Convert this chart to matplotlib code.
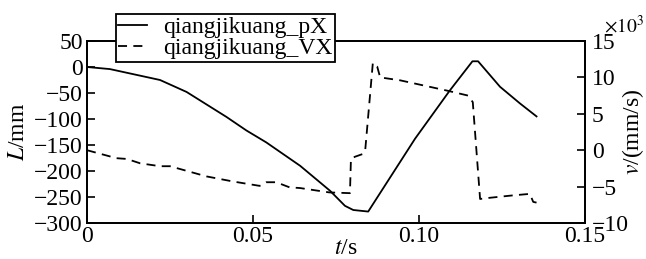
import matplotlib
matplotlib.use("Agg")
import matplotlib.pyplot as plt

# Position (left axis, mm)
t_px = [0.0, 0.0069, 0.022, 0.030, 0.042, 0.048, 0.054, 0.0642, 0.0732, 0.0777, 0.0802,
        0.0847, 0.0988, 0.1093, 0.1161, 0.1178, 0.1244, 0.1304, 0.1354]
px = [0, -4, -25, -48, -96, -122, -145, -190, -238, -267, -275,
      -278, -138, -45, 11, 11, -38, -70, -95]

# Velocity (right axis, x10^3 mm/s)
t_vx = [0.0, 0.0089, 0.012, 0.016, 0.022, 0.025, 0.036, 0.044, 0.052, 0.054, 0.057,
        0.061, 0.0642, 0.073, 0.0792, 0.0795, 0.0807, 0.0832, 0.0838, 0.0861, 0.0874,
        0.0883, 0.0943, 0.1083, 0.1148, 0.1162, 0.1184, 0.1200, 0.1284, 0.1334, 0.1344, 0.1354]
vx = [0.0, -1.1, -1.2, -1.8, -2.2, -2.2, -3.6, -4.3, -4.9, -4.4, -4.4,
      -5.1, -5.2, -5.8, -5.9, -1.2, -0.9, -0.5, 0.0, 12.0, 11.5,
      10.0, 9.6, 8.2, 7.5, 6.6, -6.7, -6.6, -6.2, -6.0, -7.1, -7.2]

x_ticks = [0, 0.05, 0.10, 0.15]
x_ticklabels = ["0", "0.05", "0.10", "0.15"]
yl_ticks = [50, 0, -50, -100, -150, -200, -250, -300]
yr_ticks = [15, 10, 5, 0, -5, -10]

plt.rcParams['font.family'] = ['Liberation Serif', 'DejaVu Serif']
plt.rcParams['mathtext.fontset'] = 'stix'
fs = 17

fig = plt.figure(figsize=(6.46, 2.59), dpi=100)
ax = fig.add_axes([87/646, 1-223/259, (585-87)/646, (223-41)/259])
ax2 = ax.twinx()

l1, = ax.plot(t_px, px, color='black', lw=1.3, label='qiangjikuang_pX')
l2, = ax2.plot(t_vx, vx, color='black', lw=1.3, ls=(0, (5, 3.5)), label='qiangjikuang_VX')

ax.set_xlim(0, 0.15)
ax.set_ylim(-300, 50)
ax2.set_ylim(-10, 15)
ax.set_xticks(x_ticks)
ax.set_xticklabels(x_ticklabels)
ax.set_yticks(yl_ticks)
ax.set_yticklabels([str(v).replace('-', '\u2212') for v in yl_ticks])
ax2.set_yticks(yr_ticks)
ax2.set_yticklabels([str(v).replace('-', '\u2212') for v in yr_ticks])

for a in (ax, ax2):
    a.tick_params(direction='in', length=6, width=1.2, labelsize=fs)
    for s in a.spines.values():
        s.set_linewidth(1.3)
ax.tick_params(axis='y', pad=3)
ax.tick_params(axis='x', pad=2)
ax2.tick_params(axis='y', pad=5)

ax.set_ylabel(r'$\mathit{L}$/mm', fontsize=fs, labelpad=4)
ax2.set_ylabel(r'$\mathit{v}$/(mm/s)', fontsize=fs)
ax2.yaxis.set_label_coords((633 - 87) / 498, 0.5, transform=ax2.transAxes)
ax2.yaxis.label.set_ha('center')
ax2.yaxis.label.set_va('center')
ax.set_xlabel(r'$\mathit{t}$/s', fontsize=fs)
ax.xaxis.set_label_coords(0.52, -0.085, transform=ax.transAxes)
ax.xaxis.label.set_va('top')

fig.text(604/646, 1-33/259, r'$\times10^3$', fontsize=14, ha='left', va='baseline')

leg = ax2.legend(handles=[l1, l2], loc='upper left', bbox_to_anchor=(116/646, 1-14/259),
                 bbox_transform=fig.transFigure,
                 fontsize=fs, frameon=True, fancybox=False, edgecolor='black', framealpha=1,
                 handlelength=1.2, handletextpad=0.7, borderpad=0.1, labelspacing=0.0,
                 borderaxespad=0)
leg.get_frame().set_linewidth(1.3)
leg.set_zorder(10)

fig.savefig('out.png', dpi=100)
